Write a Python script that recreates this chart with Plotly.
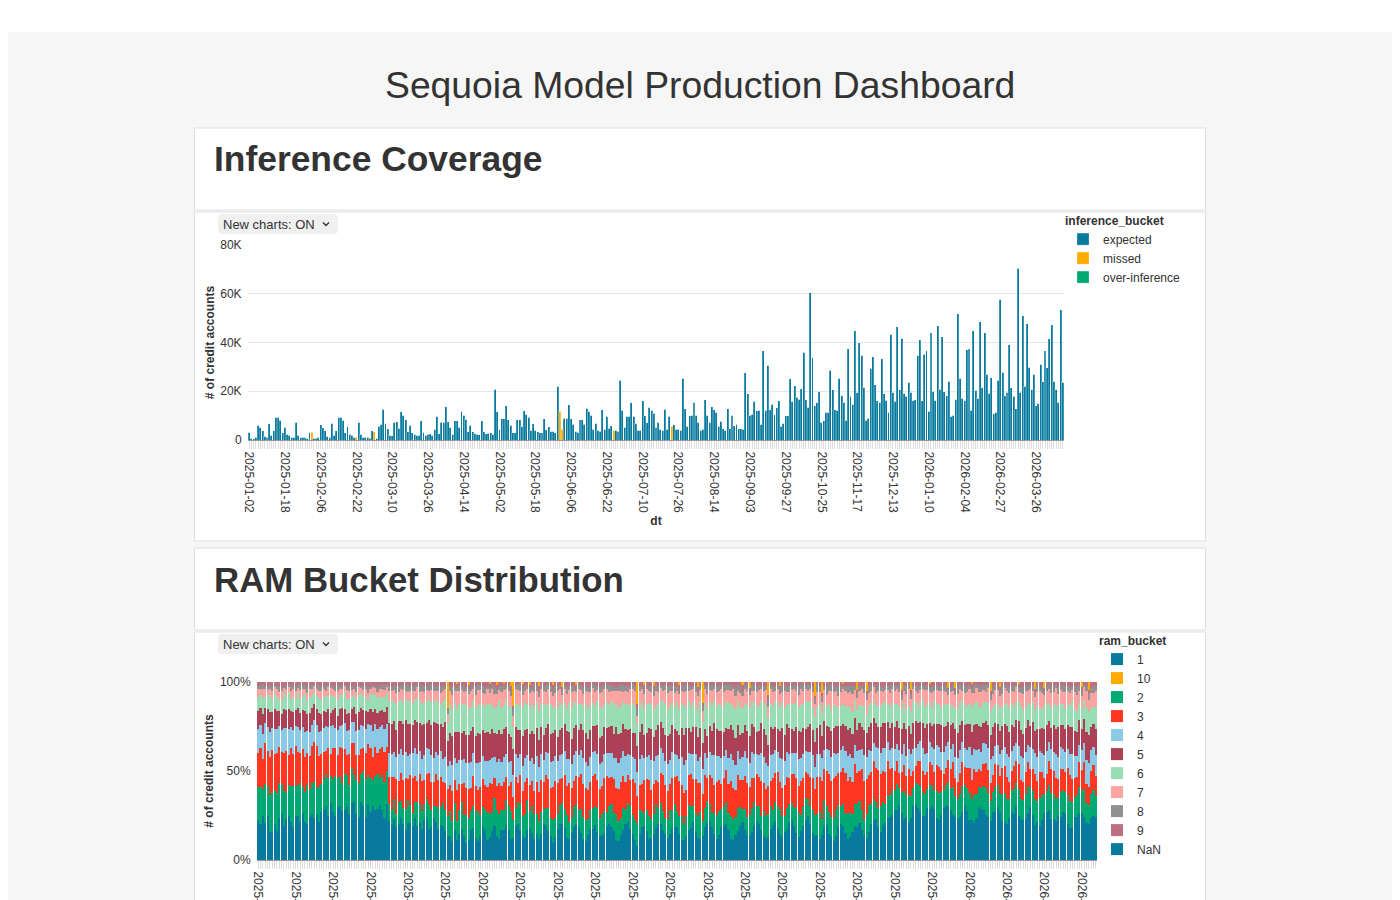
import numpy as np
import pandas as pd
import plotly.graph_objects as go

# ---- data -------------------------------------------------------------
tick_dates = ["2025-01-02", "2025-01-18", "2025-02-06", "2025-02-22", "2025-03-10",
              "2025-03-26", "2025-04-14", "2025-05-02", "2025-05-18", "2025-06-06",
              "2025-06-22", "2025-07-10", "2025-07-26", "2025-08-14", "2025-09-03",
              "2025-09-27", "2025-10-25", "2025-11-17", "2025-12-13", "2026-01-10",
              "2026-02-04", "2026-02-27", "2026-03-26"]

# expected inferences per dt, thousands of accounts
expected_k = [
    3.1, 0.7, 0.6, 1.1, 6.1, 5.2, 3.7, 1.5, 1.1, 6.7, 2.0, 3.7, 9.4, 9.4, 8.2, 2.9, 5.3, 2.4, 1.9, 1.2,
    1.2, 7.3, 2.0, 1.2, 1.2, 1.2, 0.7, 3.1, 0, 0.7, 0.7, 1.2, 6.3, 5.0, 3.7, 1.6, 1.2, 6.8, 2.0, 3.7,
    9.4, 9.4, 8.2, 2.9, 5.4, 2.4, 2.0, 1.2, 0, 7.3, 2.4, 1.2, 1.2, 1.2, 0.7, 3.7, 0, 0.7, 5.7, 6.5,
    12.7, 6.8, 4.6, 2.0, 1.8, 7.3, 7.5, 4.9, 11.6, 10.2, 8.4, 3.3, 6.0, 3.0, 2.4, 1.9, 1.9, 8.0, 3.1, 2.0,
    2.4, 2.6, 2.0, 4.5, 9.8, 2.6, 7.3, 7.3, 13.6, 7.5, 5.3,
    2.4, 7.8, 8.0, 5.3, 11.7, 10.2, 8.6, 3.4, 6.1, 3.3, 2.7, 2.4, 2.2, 8.0, 3.4, 2.6, 2.7, 2.9, 2.4, 20.8,
    11.6, 4.2, 8.7, 8.7, 14.1, 8.4, 6.1, 3.0, 3.0, 8.3, 8.3, 5.7, 12.0, 10.6, 9.3, 4.1, 6.7, 3.9, 3.4, 2.9,
    2.9, 8.8, 4.2, 5.4, 3.5, 3.5, 2.9, 22.0, 0, 0, 9.0, 9.0, 14.4, 8.8, 6.5, 3.5, 3.1, 8.3, 8.3, 6.5,
    13.1, 11.8, 10.2, 4.5, 6.9, 4.1, 3.5, 12.5, 4.4, 9.8, 4.9, 5.9, 0, 3.9, 3.5, 24.5, 12.2, 5.3, 9.7, 9.8,
    15.2, 9.7, 6.9, 3.9, 3.9, 16.2, 9.9, 7.1, 13.5, 12.2, 11.0,
    5.3, 7.3, 4.4, 3.9, 12.7, 4.5, 9.8, 0, 6.3, 4.4, 4.4, 3.9, 25.4, 12.9, 5.7, 9.9, 10.2, 15.4, 10.2, 7.3,
    4.1, 4.4, 16.6, 10.2, 7.2, 13.6, 12.5, 11.3, 5.7, 7.6, 4.6, 4.1, 12.8, 4.6, 10.1, 5.9, 6.5, 4.6, 4.6, 4.4,
    27.5, 19.0, 10.2, 10.6, 15.8, 12.0, 12.2, 6.5, 36.6, 12.2, 30.6, 12.5, 14.6, 10.3, 13.3, 16.1, 5.7, 6.8, 9.9, 9.9,
    25.2, 15.8, 22.2, 17.6, 16.7, 21.1, 35.9, 16.5, 13.5, 60.4, 33.7, 14.0, 15.2, 19.9, 7.3, 8.0, 11.4, 11.3, 28.6, 20.7,
    12.5, 12.2, 25.4, 18.2, 15.5, 8.2, 37.4, 18.0, 14.7, 44.8, 19.3, 39.9,
    34.7, 21.6, 8.2, 9.0, 29.4, 34.1, 22.6, 16.1, 15.5, 33.3, 19.0, 16.3, 11.3, 43.3, 19.5, 15.9, 46.5, 20.7, 41.8, 19.2,
    18.0, 23.7, 19.5, 16.1, 16.5, 34.8, 41.2, 16.2, 35.1, 36.7, 11.8, 44.1, 19.9, 16.3, 46.9, 20.8, 42.3, 19.7, 18.1, 24.2,
    9.8, 10.2, 16.7, 51.8, 25.3, 17.1, 16.3, 37.1, 37.4, 12.2, 44.8, 20.5, 17.1, 48.6, 21.5, 44.1, 26.9, 19.2, 25.6, 10.7,
    11.3, 24.5, 57.7, 27.8, 18.1, 19.6, 39.0, 21.5, 18.0, 12.8, 70.5, 19.5, 50.9, 22.0, 47.6, 29.9, 20.8, 26.9, 14.1, 15.0,
    31.0, 23.9, 36.7, 29.7, 41.6, 47.2, 24.2, 20.8, 15.5, 53.5, 23.7,
]
missed_idx = [28, 48, 56, 139, 140, 163, 189]
missed_k = [3.1, 1.2, 3.3, 11.8, 4.5, 3.9, 5.6]

# RAM bucket shares per dt (relative units, normalised to 100% below)
ram_1 = [
    22, 19, 25, 20, 24, 17, 15, 20, 16, 22, 25, 19, 23, 26, 22, 18, 23, 25, 20, 27, 22, 19, 25, 28, 21, 26, 22, 27,
    27, 30, 25, 31, 28, 24, 30, 32, 26, 29, 31, 25, 30, 33, 27, 26, 31, 29, 25, 32, 27, 31, 26, 30, 32, 27, 25, 31,
    22, 19, 24, 18, 21, 25, 19, 17, 23, 21, 18, 24, 19, 23, 17, 21, 24, 18, 20, 23, 21, 17, 20, 19, 16, 15,
    13, 10, 16, 11, 14, 18, 12, 9, 12, 16, 17, 12, 10, 14, 19, 15, 11, 13, 17, 20, 14, 11, 15, 18, 21, 16, 12, 14,
    19, 22, 17, 13, 12, 16, 20, 15, 11,
    14, 11, 15, 19, 21, 17, 12, 10, 13, 17, 20, 22, 18, 13, 11, 14, 18, 21, 19, 16, 12, 10, 12, 16, 19, 21, 17, 13,
    12, 15, 19, 22, 19, 16, 11, 10, 14, 18, 20, 23, 18, 14, 11, 9, 14, 18, 20, 16, 12, 11, 15, 19, 21, 22, 17, 13,
    12, 14, 18, 20, 18, 15, 11, 10, 13, 17, 19, 21, 17, 13, 11, 15, 19, 22, 23, 19, 14, 12, 14, 18, 20, 21, 16, 12,
    11, 13, 17, 19, 22, 18, 14, 13, 16, 20, 23, 21, 17, 13, 11, 14, 18, 21, 23, 19, 15, 12, 15, 19, 22, 24, 20, 15,
    13, 16, 20, 23, 25, 21, 16, 14,
    13, 10, 14, 17, 19, 15, 11, 10, 13, 17, 18, 20, 15, 12, 11, 14, 18, 20, 21, 16, 13, 12, 15, 19, 22, 23, 19, 15,
    18, 22, 25, 27,
    24, 27, 30, 32, 28, 24, 22, 21, 25, 29, 31, 33, 29, 25, 23, 27, 31, 33, 29, 25, 22, 25, 29, 32, 34, 30, 26, 23,
    21, 24, 28, 31, 28, 24, 21, 20, 23, 27, 30, 32, 27, 23, 21, 25, 29, 31, 27, 23, 20, 19, 22, 26, 28, 30, 26, 22,
    20, 23, 27, 29, 25, 21, 19, 18, 21, 25, 28, 29, 25, 21, 19, 22, 26, 28, 24, 20, 18, 17, 21, 24, 27, 28, 24, 20,
    18, 22, 25, 23,
]
ram_2 = [
    18, 20, 15, 21, 17, 22, 23, 19, 21, 18, 16, 20, 15, 18, 21, 22, 16, 18, 20, 15, 18, 21, 16, 19, 18, 15, 20, 16,
    17, 19, 21, 15, 19, 22, 16, 18, 15, 21, 19, 16, 18, 14, 20, 21, 15, 18, 22, 16, 19, 15, 18, 21, 16, 19, 22, 18,
    10, 8, 12, 7, 13, 10, 8, 12, 14, 10, 7, 9, 13, 11, 10, 8, 12, 14, 10, 7, 9, 12, 10, 13, 11, 14,
    13, 11, 15, 10, 13, 16, 11, 15, 13, 10, 12, 15, 16, 13, 11, 10, 15, 13, 11, 16, 15, 13, 10, 12, 15, 13, 16, 11,
    10, 13, 15, 11, 13, 16, 11, 15, 13,
    11, 9, 13, 8, 11, 14, 9, 13, 11, 8, 10, 13, 11, 14, 9, 8, 11, 13, 10, 14, 13, 11, 8, 10, 13, 11, 14, 9,
    11, 13, 8, 11, 13, 10, 14, 11, 9, 13, 8, 11, 13, 10, 11, 14, 13, 9, 8, 11, 13, 10, 11, 14, 9, 13, 11, 8,
    10, 13, 11, 14, 9, 11, 13, 8, 11, 14, 13, 9, 11, 13, 14, 9, 11, 13, 10, 8, 11, 14, 13, 10, 11, 13, 9, 14,
    11, 9, 13, 11, 8, 13, 10, 11, 14, 13, 9, 11, 8, 13, 11, 14, 13, 9, 11, 13, 14, 11, 9, 13, 11, 10, 11, 14,
    13, 9, 11, 13, 10, 11, 14, 12,
    11, 13, 9, 14, 11, 13, 9, 12, 14, 11, 9, 13, 11, 14, 12, 9, 11, 14, 12, 11, 9, 13, 14, 11, 12, 9, 11, 14,
    12, 11, 13, 14,
    13, 11, 15, 10, 13, 16, 11, 15, 13, 10, 12, 15, 16, 13, 11, 10, 15, 13, 11, 16, 15, 13, 10, 12, 15, 13, 16, 11,
    10, 13, 15, 11, 13, 16, 11, 15, 13, 10, 12, 15, 16, 13, 11, 10, 15, 13, 11, 16, 15, 13, 10, 12, 15, 13, 16, 11,
    10, 13, 15, 11, 13, 16, 11, 15, 13, 10, 12, 15, 16, 13, 11, 10, 15, 13, 11, 16, 15, 13, 10, 12, 15, 13, 16, 11,
    10, 13, 15, 12,
]
ram_3 = [
    19, 21, 17, 22, 19, 23, 24, 20, 22, 19, 17, 21, 23, 18, 22, 17, 21, 19, 16, 22, 20, 17, 19, 22, 20, 23, 18, 17,
    15, 13, 17, 12, 18, 15, 13, 17, 19, 15, 12, 17, 13, 18, 15, 17, 13, 12, 15, 18, 17, 13, 15, 12, 17, 15, 18, 13,
    15, 18, 13, 19, 12, 17, 15, 18, 13, 17, 19, 15, 12, 18, 17, 13, 15, 19, 17, 13, 18, 15, 17, 12, 15, 18,
    14, 16, 12, 17, 14, 11, 16, 14, 17, 12, 16, 14, 11, 17, 16, 12, 14, 17, 16, 12, 14, 16, 12, 17, 14, 11, 16, 14,
    17, 12, 16, 14, 17, 12, 16, 14, 12,
    17, 15, 19, 14, 20, 17, 15, 19, 21, 17, 14, 15, 19, 17, 20, 15, 14, 17, 19, 21, 19, 17, 14, 15, 20, 19, 17, 15,
    14, 19, 20, 17, 15, 19, 14, 17, 20, 19, 15, 17, 15, 19, 20, 17, 14, 15, 19, 17, 20, 15, 17, 14, 15, 19, 20, 17,
    15, 14, 19, 17, 19, 20, 17, 15, 14, 17, 19, 15, 20, 19, 15, 17, 19, 14, 17, 20, 15, 19, 17, 14, 17, 19, 15, 20,
    17, 14, 19, 15, 17, 20, 19, 15, 17, 14, 19, 17, 20, 15, 14, 17, 15, 19, 17, 20, 15, 14, 17, 19, 15, 17, 20, 17,
    15, 19, 17, 15, 14, 17, 19, 15,
    19, 17, 21, 16, 19, 22, 17, 21, 19, 16, 17, 21, 22, 19, 17, 16, 21, 19, 17, 22, 21, 19, 16, 17, 21, 19, 22, 17,
    16, 19, 21, 17,
    12, 10, 14, 9, 12, 15, 10, 14, 12, 9, 10, 14, 15, 12, 10, 9, 14, 12, 10, 15, 14, 12, 9, 10, 14, 12, 15, 10,
    9, 12, 14, 10, 12, 15, 10, 14, 12, 9, 10, 14, 15, 12, 10, 9, 14, 12, 10, 15, 14, 12, 9, 10, 14, 12, 15, 10,
    9, 12, 14, 10, 12, 15, 10, 14, 12, 9, 10, 14, 15, 12, 10, 9, 14, 12, 10, 15, 14, 12, 9, 10, 14, 12, 15, 10,
    9, 12, 14, 11,
]
ram_4 = [
    13, 12, 14, 11, 13, 15, 12, 14, 13, 11, 12, 14, 13, 15, 12, 13, 11, 14, 12, 13, 15, 12, 14, 13, 11, 12, 14, 13,
    13, 14, 12, 15, 13, 11, 14, 13, 12, 15, 14, 13, 11, 12, 14, 15, 13, 12, 14, 11, 13, 15, 12, 14, 13, 12, 14, 13,
    14, 13, 15, 12, 16, 14, 13, 15, 14, 12, 13, 16, 15, 14, 12, 13, 15, 14, 16, 13, 12, 14, 15, 13, 14, 15,
    13, 14, 12, 15, 13, 14, 12, 13, 15, 14, 12, 13, 14, 15, 13, 12, 14, 13, 15, 12, 14, 13, 12, 15, 14, 13, 12, 14,
    13, 15, 12, 14, 13, 12, 15, 13, 14,
    14, 13, 15, 12, 14, 16, 13, 15, 14, 12, 13, 15, 14, 16, 13, 12, 14, 15, 13, 14, 15, 14, 12, 13, 15, 14, 16, 13,
    12, 14, 13, 15, 14, 12, 16, 14, 13, 15, 14, 13, 14, 12, 13, 15, 14, 16, 13, 12, 14, 15, 13, 14, 16, 15, 13, 12,
    14, 13, 15, 14, 12, 13, 15, 14, 16, 13, 12, 14, 15, 13, 14, 15, 13, 12, 14, 13, 16, 15, 13, 14, 13, 12, 14, 16,
    15, 13, 14, 12, 13, 15, 14, 13, 15, 14, 12, 13, 16, 14, 13, 12, 15, 14, 13, 12, 14, 15, 13, 16, 14, 13, 12, 14,
    15, 13, 14, 12, 13, 15, 14, 13,
    12, 11, 13, 10, 12, 14, 11, 13, 12, 10, 11, 13, 12, 14, 11, 12, 10, 13, 12, 11, 14, 12, 13, 11, 10, 12, 13, 11,
    12, 14, 11, 12,
    11, 12, 10, 13, 11, 12, 10, 11, 13, 12, 10, 11, 12, 13, 11, 10, 12, 11, 13, 12, 11, 10, 12, 13, 11, 12, 10, 11,
    12, 13, 12, 11, 10, 12, 13, 11, 12, 10, 11, 13, 11, 12, 13, 10, 11, 12, 13, 11, 10, 12, 13, 11, 12, 10, 11, 13,
    12, 11, 10, 12, 11, 13, 12, 11, 10, 12, 13, 11, 12, 10, 12, 11, 13, 12, 10, 11, 12, 13, 11, 12, 10, 12, 11, 13,
    12, 11, 10, 12,
]
ram_5 = [
    10, 9, 11, 8, 10, 12, 9, 11, 10, 8, 9, 11, 10, 12, 9, 10, 8, 11, 9, 10, 12, 9, 11, 10, 8, 9, 11, 10,
    9, 8, 10, 7, 9, 11, 8, 10, 9, 8, 10, 9, 7, 8, 10, 11, 9, 8, 10, 7, 9, 11, 8, 10, 9, 8, 10, 9,
    17, 16, 18, 15, 19, 17, 16, 18, 20, 17, 15, 16, 18, 17, 19, 16, 15, 17, 18, 20, 16, 17, 15, 18, 19, 17,
    15, 16, 14, 17, 15, 16, 14, 15, 17, 16, 14, 15, 16, 17, 15, 14, 16, 15, 17, 14, 16, 15, 14, 17, 16, 15, 14, 16,
    15, 17, 14, 16, 15, 14, 17, 15, 16,
    15, 14, 16, 13, 15, 17, 14, 16, 15, 13, 14, 16, 15, 17, 14, 13, 15, 16, 14, 15, 16, 15, 13, 14, 16, 15, 17, 14,
    13, 15, 14, 16, 15, 13, 17, 15, 14, 16, 15, 14, 15, 13, 14, 16, 15, 17, 14, 13, 15, 16, 14, 15, 17, 16, 14, 13,
    15, 14, 16, 15, 13, 14, 16, 15, 17, 14, 13, 15, 16, 14, 15, 16, 14, 13, 15, 14, 17, 16, 14, 15, 14, 13, 15, 17,
    16, 14, 15, 13, 14, 16, 15, 14, 16, 15, 13, 14, 17, 15, 14, 13, 16, 15, 14, 13, 15, 16, 14, 17, 15, 14, 13, 15,
    16, 14, 15, 13, 14, 16, 15, 14,
    13, 14, 12, 15, 13, 14, 12, 13, 15, 14, 12, 13, 14, 15, 13, 12, 14, 13, 15, 12, 14, 13, 12, 15, 14, 13, 12, 14,
    13, 15, 12, 14,
    13, 12, 14, 13, 15, 12, 14, 13, 12, 14, 15, 13, 12, 14, 13, 15, 12, 13, 14, 12, 13, 15, 14, 12, 13, 14, 12, 15,
    13, 14, 12, 13, 15, 14, 12, 13, 14, 12, 15, 13, 14, 12, 13, 15, 14, 12, 13, 14, 12, 15, 13, 14, 12, 13, 15, 14,
    12, 13, 14, 12, 15, 13, 14, 12, 13, 14, 15, 12, 13, 14, 12, 15, 13, 14, 12, 13, 15, 14, 12, 13, 14, 12, 13, 15,
    14, 12, 13, 14,
]
ram_6 = [
    8, 7, 9, 6, 8, 10, 7, 9, 8, 6, 7, 9, 8, 10, 7, 8, 6, 9, 7, 8, 10, 7, 9, 8, 6, 7, 9, 8,
    8, 9, 7, 10, 8, 6, 9, 8, 7, 10, 9, 8, 6, 7, 9, 10, 8, 7, 9, 6, 8, 10, 7, 9, 8, 7, 9, 8,
    12, 13, 11, 14, 12, 13, 11, 12, 14, 13, 11, 12, 13, 14, 12, 11, 13, 12, 14, 11, 13, 12, 11, 14, 13, 12,
    15, 14, 16, 13, 15, 17, 14, 16, 15, 13, 14, 16, 15, 17, 14, 13, 15, 16, 14, 15, 16, 15, 13, 14, 16, 15, 17, 14,
    13, 15, 14, 16, 15, 13, 17, 15, 14,
    14, 15, 13, 16, 14, 12, 15, 14, 13, 16, 15, 14, 12, 13, 15, 16, 14, 13, 15, 12, 14, 16, 15, 13, 14, 12, 15, 16,
    14, 13, 15, 13, 14, 16, 12, 14, 15, 13, 14, 15, 14, 16, 15, 13, 14, 12, 15, 16, 14, 13, 15, 14, 12, 13, 15, 16,
    14, 15, 13, 14, 16, 15, 13, 14, 12, 15, 16, 14, 13, 15, 14, 13, 15, 16, 14, 15, 12, 13, 15, 14, 15, 16, 14, 12,
    13, 15, 14, 16, 15, 13, 14, 15, 13, 14, 16, 15, 12, 14, 15, 16, 13, 14, 15, 16, 14, 13, 15, 12, 14, 15, 16, 14,
    13, 15, 14, 16, 15, 13, 14, 15,
    11, 10, 12, 9, 11, 13, 10, 12, 11, 9, 10, 12, 11, 13, 10, 11, 9, 12, 10, 11, 13, 10, 12, 11, 9, 10, 12, 11,
    10, 12, 11, 13,
    11, 12, 10, 13, 11, 12, 10, 11, 13, 12, 10, 11, 12, 13, 11, 10, 12, 11, 13, 12, 11, 10, 12, 13, 11, 12, 10, 11,
    12, 13, 12, 11, 10, 12, 13, 11, 12, 10, 11, 13, 11, 12, 13, 10, 11, 12, 13, 11, 10, 12, 13, 11, 12, 10, 11, 13,
    12, 11, 10, 12, 11, 13, 12, 11, 10, 12, 13, 11, 12, 10, 12, 11, 13, 12, 10, 11, 12, 13, 11, 12, 10, 12, 11, 13,
    12, 11, 10, 12,
]
ram_7 = [
    4, 3, 5, 4, 3, 4, 5, 3, 4, 4, 5, 3, 4, 3, 5, 4, 4, 3, 5, 4, 3, 4, 5, 4, 3, 4, 4, 5,
    4, 3, 5, 4, 4, 3, 5, 4, 3, 4, 5, 4, 4, 3, 4, 5, 3, 4, 4, 5, 3, 4, 4, 3, 5, 4, 4, 3,
    6, 5, 7, 6, 5, 6, 7, 5, 6, 6, 7, 5, 6, 5, 7, 6, 6, 5, 7, 6, 5, 6, 7, 6, 5, 6,
    7, 8, 6, 9, 7, 8, 6, 7, 9, 8, 6, 7, 8, 9, 7, 6, 8, 7, 9, 8, 7, 6, 8, 9, 7, 8, 6, 7, 8, 9,
    8, 7, 6, 8, 9, 7, 8, 6, 7, 9, 7, 8, 9, 6, 7, 8, 9, 7, 6, 8, 9, 7, 8, 6, 7, 9, 8, 7, 6, 8,
    7, 9, 8, 6, 7, 8, 9, 7, 8, 6, 8, 7, 9, 8, 6, 7, 8, 9, 7, 8, 6, 8, 7, 9, 8, 7, 6, 8, 9, 7,
    8, 6, 7, 9, 8, 7, 8, 6, 9, 7, 7, 8, 6, 9, 7, 8, 9, 6, 7, 8, 9, 7, 8, 6, 8, 7, 9, 8, 6, 7,
    8, 9, 7, 6, 8, 7, 9, 8, 7, 6, 7, 8, 9, 7, 6, 8, 7, 9, 8, 6, 8, 7, 6, 9, 8, 7, 8, 9, 6, 7,
    9, 8, 7, 6, 8, 9, 7, 8, 6, 7, 7, 6, 8, 9, 7, 8, 6, 7, 9, 8, 8, 7, 9, 6, 7, 8, 9, 7, 8, 6,
    6, 8, 7, 9, 8, 6, 7, 8, 9, 7, 7, 9, 8, 6, 7, 8, 9, 8, 6, 7, 8, 7, 6, 9, 8, 7, 9, 6, 8, 7,
    9, 8, 7, 6, 8, 9, 7, 8, 7, 6, 7, 8, 9, 7, 6, 8, 7, 9, 8, 6, 8, 6, 7, 9, 8, 7, 8, 9, 6, 7,
    7, 9, 8, 6, 7, 8, 9, 7, 8, 6, 8, 7, 9, 8, 6, 7, 8, 9, 7, 8, 6, 8, 7, 9, 8, 7, 6, 8, 9, 7,
    8, 7, 9, 6, 7, 8, 9,
]
ram_8 = [
    2, 2, 3, 2, 1, 2, 3, 2, 2, 3, 2, 1, 2, 2, 3, 2, 2, 1, 3, 2, 2, 3, 2, 2, 1, 2, 3, 2,
    2, 3, 2, 1, 2, 2, 3, 2, 2, 1, 2, 3, 2, 2, 3, 2, 1, 2, 2, 3, 2, 2, 1, 3, 2, 2, 3, 2,
    3, 2, 3, 4, 3, 2, 3, 3, 4, 2, 3, 3, 2, 4, 3, 3, 2, 3, 4, 3, 2, 3, 4, 3, 2, 3, 3, 4, 3, 2,
    3, 4, 3, 2, 3, 3, 2, 4, 3, 3, 4, 3, 2, 3, 3, 4, 3, 2, 3, 3, 2, 3, 3, 4, 2, 3, 4, 3, 3, 2,
    3, 2, 4, 3, 3, 2, 3, 4, 3, 3, 3, 4, 3, 2, 3, 3, 4, 2, 3, 3, 2, 3, 3, 4, 3, 2, 3, 3, 4, 3,
    3, 3, 2, 3, 4, 3, 3, 2, 3, 4, 4, 3, 3, 2, 3, 3, 4, 3, 2, 3, 3, 2, 3, 4, 3, 3, 2, 3, 3, 4,
    3, 3, 4, 3, 2, 3, 3, 4, 3, 2, 2, 4, 3, 3, 3, 2, 4, 3, 3, 3, 3, 3, 2, 4, 3, 3, 3, 2, 4, 3,
    4, 3, 3, 3, 2, 3, 4, 3, 3, 2, 3, 2, 4, 3, 3, 3, 2, 3, 4, 3, 3, 4, 3, 2, 3, 4, 3, 3, 2, 3,
    2, 3, 3, 4, 3, 3, 2, 4, 3, 3, 3, 3, 4, 3, 2, 3, 3, 3, 4, 2, 4, 3, 2, 3, 3, 4, 3, 2, 3, 3,
    3, 2, 3, 3, 4, 3, 3, 2, 4, 3, 3, 4, 3, 3, 2, 3, 4, 3, 3, 2, 2, 3, 4, 3, 3, 2, 3, 3, 4, 3,
    3, 3, 2, 4, 3, 3, 4, 3, 2, 3, 4, 2, 3, 3, 3, 4, 2, 3, 3, 3, 3, 3, 4, 2, 3, 3, 3, 4, 2, 3,
    3, 4, 3, 3, 2, 3, 3, 4, 3, 3, 2, 3, 3, 4, 3, 2, 3, 3, 4, 3, 3, 3, 2, 3, 4, 3, 3, 2, 3, 3,
    3, 4, 3,
]
ram_9 = [
    2, 2, 1, 2, 3, 2, 2, 1, 2, 2, 3, 2, 2, 1, 2, 2, 3, 2, 1, 2, 2, 3, 2, 2, 1, 2, 2, 3, 2, 2,
    1, 2, 2, 3, 2, 2, 2, 1, 3, 2, 2, 2, 3, 1, 2, 2, 2, 3, 2, 1, 2, 3, 2, 2, 2, 1, 2, 3, 2, 2,
    3, 2, 1, 2, 2, 3, 2, 2, 1, 2, 2, 2, 3, 2, 1, 2, 3, 2, 2, 2, 2, 1, 2, 3, 2, 2, 2, 1, 2, 3,
    2, 2, 2, 3, 1, 2, 2, 3, 2, 2, 1, 3, 2, 2, 2, 1, 2, 2, 3, 2, 2, 2, 1, 3, 2, 2, 2, 3, 1, 2,
    3, 2, 2, 2, 1, 2, 3, 2, 2, 2, 2, 1, 3, 2, 2, 2, 2, 1, 2, 3, 2, 3, 2, 1, 2, 2, 3, 2, 2, 1,
    2, 2, 2, 3, 2, 1, 2, 2, 3, 2, 1, 2, 3, 2, 2, 2, 1, 3, 2, 2, 2, 3, 2, 2, 1, 2, 2, 2, 3, 2,
    3, 2, 2, 1, 2, 3, 2, 2, 2, 1, 2, 2, 3, 2, 2, 1, 3, 2, 2, 2, 2, 1, 2, 2, 3, 2, 2, 3, 1, 2,
    2, 2, 1, 3, 2, 2, 2, 2, 3, 1, 3, 2, 2, 2, 1, 2, 3, 2, 2, 2, 2, 3, 1, 2, 2, 2, 2, 3, 2, 1,
    2, 2, 2, 3, 2, 1, 2, 2, 3, 2, 1, 2, 3, 2, 2, 2, 1, 2, 2, 3, 2, 2, 2, 1, 3, 2, 2, 3, 2, 2,
    3, 1, 2, 2, 2, 3, 2, 2, 1, 2, 2, 2, 3, 2, 1, 2, 2, 2, 3, 2, 2, 3, 2, 2, 2, 1, 3, 2, 2, 2,
    1, 2, 2, 3, 2, 2, 2, 1, 2, 3, 2, 2, 1, 2, 3, 2, 2, 2, 3, 1, 2, 3, 2, 2, 1, 2, 3, 2, 2, 2,
    2, 2, 2, 1, 2, 3, 2, 2, 1, 3, 2, 1, 3, 2, 2, 2, 2, 3, 2, 2, 3, 2, 2, 1, 2, 2, 3, 2, 2,
]
ram_10_idx = [81, 85, 90, 99, 102, 105, 108, 109, 113, 116, 120, 126, 130, 136, 162, 165, 169, 180, 188, 190,
              207, 210, 218, 223, 238, 241, 250, 256, 260, 275, 279, 287, 295, 298, 305, 313, 317, 325, 332, 336,
              352, 355]
ram_10_val = [17, 1, 2, 1, 2, 1, 2, 15, 1, 2, 2, 2, 3, 2, 14, 2, 2, 2, 3, 13,
              2, 3, 8, 2, 8, 6, 1, 5, 5, 5, 5, 1, 4, 3, 1, 5, 3, 1, 4, 3,
              3, 4]

ram_buckets = ["1", "2", "3", "4", "5", "6", "7", "8", "9", "10", "NaN"]
legend_rank = {"1": 1, "10": 2, "2": 3, "3": 4, "4": 5, "5": 6, "6": 7, "7": 8, "8": 9, "9": 10, "NaN": 11}
ram_colors = {"1": "#077A9D", "10": "#FFAB00", "2": "#00A972", "3": "#FF3621", "4": "#8BCAE7",
              "5": "#AB4057", "6": "#99DDB4", "7": "#FCA4A1", "8": "#919191", "9": "#BF7080",
              "NaN": "#077A9D"}

# ---- build categories ---------------------------------------------------
n = len(expected_k)
anchors = pd.to_datetime(tick_dates)
dt = []
for a, b in zip(anchors[:-1], anchors[1:]):
    gap = (b - a).days
    steps = np.round(np.linspace(0, gap, 16, endpoint=False)).astype(int)
    dt += [(a + pd.Timedelta(days=int(s))).strftime("%Y-%m-%d") for s in steps]
k = 0
while len(dt) < n:
    dt.append((anchors[-1] + pd.Timedelta(days=k)).strftime("%Y-%m-%d"))
    k += 1
dt = dt[:n]
ticktext = [d if i % 16 == 0 else "" for i, d in enumerate(dt)]

missed = [0.0] * n
for i, v in zip(missed_idx, missed_k):
    missed[i] = v

n_ram = min(len(r) for r in [ram_1, ram_2, ram_3, ram_4, ram_5, ram_6, ram_7, ram_8, ram_9])
ram_10 = [0] * n_ram
for i, v in zip(ram_10_idx, ram_10_val):
    if i < n_ram:
        ram_10[i] = v
ram = pd.DataFrame({"1": ram_1[:n_ram], "2": ram_2[:n_ram], "3": ram_3[:n_ram], "4": ram_4[:n_ram],
                    "5": ram_5[:n_ram], "6": ram_6[:n_ram], "7": ram_7[:n_ram], "8": ram_8[:n_ram],
                    "9": ram_9[:n_ram], "10": ram_10, "NaN": [0] * n_ram}, dtype=float)
ram_pct = ram.div(ram.sum(axis=1), axis=0) * 100
dt_ram = dt[:n_ram]
ticktext_ram = ticktext[:n_ram]

# ---- page geometry (reference pixels -> paper) ----------------------------
W, H, OFF = 1384, 892, 8
FONT = "Liberation Sans, Arial, Helvetica, sans-serif"
TXT = "#333333"


def fx(x):
    return (x - OFF) / W


def fy(y):
    return 1 - (y - OFF) / H


def rrect(x0, y0, x1, y1, r):
    return (f"M {fx(x0 + r)},{fy(y0)} L {fx(x1 - r)},{fy(y0)} Q {fx(x1)},{fy(y0)} {fx(x1)},{fy(y0 + r)} "
            f"L {fx(x1)},{fy(y1 - r)} Q {fx(x1)},{fy(y1)} {fx(x1 - r)},{fy(y1)} "
            f"L {fx(x0 + r)},{fy(y1)} Q {fx(x0)},{fy(y1)} {fx(x0)},{fy(y1 - r)} "
            f"L {fx(x0)},{fy(y0 + r)} Q {fx(x0)},{fy(y0)} {fx(x0 + r)},{fy(y0)} Z")


fig = go.Figure()

# inference coverage
edge = dict(width=0.5, color="rgba(255,255,255,0.45)")
fig.add_trace(go.Bar(x=dt, y=[v * 1000 for v in expected_k], name="expected",
                     marker=dict(color="#077A9D", line=edge), legend="legend"))
fig.add_trace(go.Bar(x=dt, y=[v * 1000 for v in missed], name="missed",
                     marker=dict(color="#FFAB00", line=edge), legend="legend"))
fig.add_trace(go.Bar(x=dt, y=[0] * n, name="over-inference",
                     marker=dict(color="#00A972", line=edge), legend="legend"))

# RAM bucket distribution
for b in ram_buckets:
    fig.add_trace(go.Bar(x=dt_ram, y=ram_pct[b], name=b, xaxis="x2", yaxis="y2",
                         marker=dict(color=ram_colors[b], line=dict(width=0)),
                         legend="legend2", legendrank=legend_rank[b]))

shapes = [
    dict(type="rect", xref="paper", yref="paper", x0=0, x1=1, y0=fy(32), y1=1,
         fillcolor="white", line_width=0, layer="below"),
]
for (y0, y1) in [(128, 210), (212, 541), (548, 630), (632, 960)]:
    shapes.append(dict(type="rect", xref="paper", yref="paper", x0=fx(194.5), x1=fx(1205.5),
                       y0=fy(y1), y1=fy(y0), fillcolor="white",
                       line=dict(color="#e1e1e1", width=1), layer="below"))
for by in [214, 634]:
    shapes.append(dict(type="path", xref="paper", yref="paper", path=rrect(218, by, 338, by + 20, 4),
                       fillcolor="#f0f0f0", line_width=0, layer="below"))
    shapes.append(dict(type="path", xref="paper", yref="paper",
                       path=f"M {fx(323)},{fy(by + 8.5)} L {fx(326)},{fy(by + 11.5)} L {fx(329)},{fy(by + 8.5)}",
                       line=dict(color=TXT, width=1.4), layer="below"))

annotations = [
    dict(text="Sequoia Model Production Dashboard", x=fx(700), y=fy(85), xref="paper", yref="paper",
         showarrow=False, font=dict(size=37.3, color=TXT), xanchor="center", yanchor="middle"),
    dict(text="<b>Inference Coverage</b>", x=fx(212), y=fy(159), xref="paper", yref="paper",
         showarrow=False, font=dict(size=35.4, color=TXT), xanchor="left", yanchor="middle"),
    dict(text="<b>RAM Bucket Distribution</b>", x=fx(212), y=fy(579), xref="paper", yref="paper",
         showarrow=False, font=dict(size=34.8, color=TXT), xanchor="left", yanchor="middle"),
]
for by in [214, 634]:
    annotations.append(dict(text="New charts: ON", x=fx(221), y=fy(by + 10), xref="paper", yref="paper",
                            showarrow=False, font=dict(size=13, color=TXT), xanchor="left", yanchor="middle"))

axis_font = dict(size=12, color=TXT)
fig.update_layout(
    width=W, height=H,
    margin=dict(l=0, r=0, t=0, b=0, autoexpand=False),
    paper_bgcolor="#f6f6f6", plot_bgcolor="white",
    font=dict(family=FONT, size=12, color=TXT),
    barmode="stack", bargap=0.12,
    shapes=shapes, annotations=annotations,
    xaxis=dict(domain=[fx(248), fx(1064)], anchor="y", type="category", range=[-0.5, n - 0.5],
               tickmode="array", tickvals=dt, ticktext=ticktext, tickangle=90,
               ticks="outside", ticklen=8, tickcolor="#dddddd", tickfont=axis_font,
               showline=True, linecolor="#999999", showgrid=False, automargin=False,
               title=dict(text="<b>dt</b>", font=dict(size=12), standoff=4)),
    yaxis=dict(domain=[fy(440), fy(245)], anchor="x", range=[0, 80000],
               tickmode="array", tickvals=[0, 20000, 40000, 60000, 80000],
               ticktext=["0", "20K", "40K", "60K", "80K"], tickfont=axis_font,
               ticks="outside", ticklen=3, tickcolor="rgba(0,0,0,0)",
               gridcolor="#e6e6e6", zeroline=False, showline=False, automargin=False,
               title=dict(text="<b># of credit accounts</b>", font=dict(size=12), standoff=3)),
    xaxis2=dict(domain=[fx(257), fx(1097)], anchor="y2", type="category", range=[-0.5, n_ram - 0.5],
                tickmode="array", tickvals=dt_ram, ticktext=ticktext_ram, tickangle=90,
                ticks="outside", ticklen=8, tickcolor="#dddddd", tickfont=axis_font,
                showline=True, linecolor="#999999", showgrid=False, automargin=False),
    yaxis2=dict(domain=[fy(860), fy(682)], anchor="x2", range=[0, 100],
                tickmode="array", tickvals=[0, 50, 100], ticktext=["0%", "50%", "100%"],
                ticks="outside", ticklen=3, tickcolor="rgba(0,0,0,0)",
                tickfont=axis_font, gridcolor="#e6e6e6", zeroline=False, showline=False, automargin=False,
                title=dict(text="<b># of credit accounts</b>", font=dict(size=12), standoff=3)),
    legend=dict(x=fx(1063), y=fy(209), xanchor="left", yanchor="top", traceorder="normal",
                title=dict(text="<b>inference_bucket</b>", font=dict(size=12)),
                font=dict(size=12, color=TXT), bgcolor="rgba(0,0,0,0)"),
    legend2=dict(x=fx(1097), y=fy(629), xanchor="left", yanchor="top", traceorder="normal",
                 title=dict(text="<b>ram_bucket</b>", font=dict(size=12)),
                 font=dict(size=12, color=TXT), bgcolor="rgba(0,0,0,0)"),
)

fig.write_html("out.html")
